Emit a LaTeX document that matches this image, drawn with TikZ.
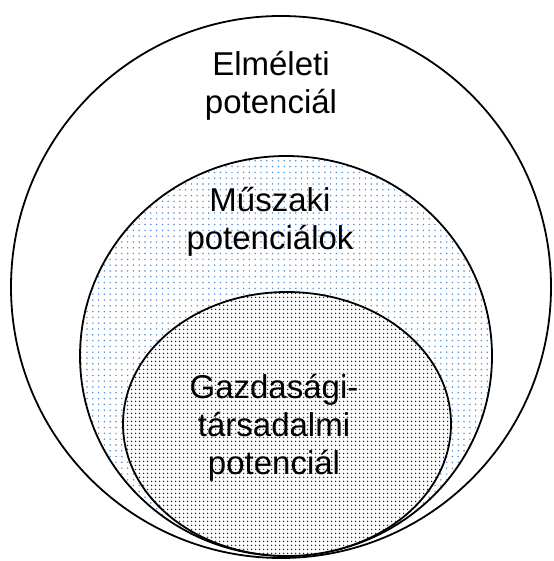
\documentclass[tikz,border=0pt]{standalone}
\usepackage{fontspec}
\setmainfont{Liberation Sans}
\usepackage{tikz}
\usetikzlibrary{patterns.meta}
\definecolor{dotblue}{RGB}{80,145,215}
\definecolor{dotgrey}{RGB}{40,40,40}

\begin{document}
\begin{tikzpicture}[x=1pt,y=-1pt]
  % Define styles for regions and labels
  \tikzset{
    region/.style={
      draw=black,
      line width=1.8pt
    },
    techfill/.style={
      pattern={Dots[distance=5.8pt,radius=0.85pt]},
      pattern color=dotblue
    },
    econfill/.style={
      pattern={Dots[distance=4pt,radius=0.95pt]},
      pattern color=dotgrey
    },
    lbl/.style={
      align=center,
      inner sep=0pt,
      font=\fontsize{33}{38}\selectfont
    }
  }
  \useasboundingbox (0,0) rectangle (553,561);

  % Nested regions
  \draw[region, fill=white] (281,287) ellipse [x radius=270, y radius=271];
  \fill[white] (286,356) ellipse [x radius=206, y radius=200];
  \draw[region, techfill] (286,356) ellipse [x radius=206, y radius=200];
  \fill[white] (287,424) ellipse [x radius=164, y radius=132];
  \draw[region, econfill] (287,424) ellipse [x radius=164, y radius=132];

  % Labels
  \node[lbl] (elm) at (271,86) {Elméleti\\potenciál};
  \node[lbl] (musz) at (270,222) {Műszaki\\potenciálok};
  \node[lbl] (gazd) at (274,428) {Gazdasági-\\társadalmi\\potenciál};
\end{tikzpicture}
\end{document}
